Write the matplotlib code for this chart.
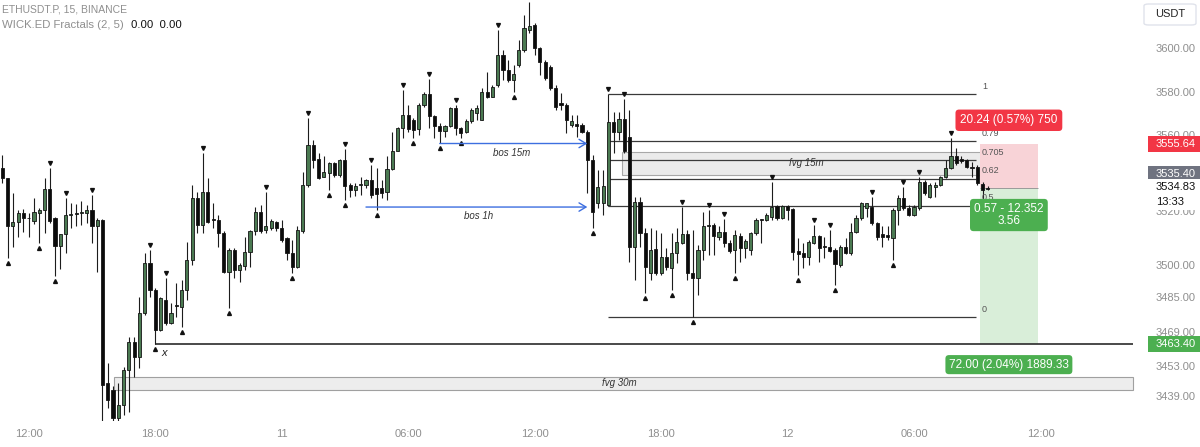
import matplotlib
matplotlib.use("Agg")
import matplotlib.pyplot as plt
import matplotlib.transforms as mtransforms
from matplotlib.patches import Rectangle, FancyBboxPatch
import numpy as np

plt.rcParams['font.family'] = ['Liberation Sans', 'DejaVu Sans']

# ETHUSDT.P 15m candles, bar 0 = day 10 12:00
first_bar = -5
opens = [
    3544.5, 3539.9, 3517.9, 3519.9, 3523.7, 3521.4, 3520.3, 3524.0, 3525.3, 3534.8,
    3521.4, 3508.6, 3514.2, 3522.7, 3523.7, 3523.9, 3523.7, 3525.0, 3517.6, 3520.7,
    3445.0, 3442.0, 3428.9, 3435.0, 3451.2, 3464.3, 3457.4, 3477.4, 3500.6, 3488.2,
    3469.7, 3483.6, 3472.8, 3481.3, 3480.5, 3488.2, 3502.1, 3530.7, 3518.3, 3533.7,
    3520.7, 3520.7, 3514.5, 3496.7, 3506.8, 3497.5, 3499.3, 3506.0, 3515.7, 3524.5,
    3516.0, 3516.8, 3519.9, 3516.8, 3512.2, 3505.5, 3499.0, 3515.3, 3536.8, 3555.4,
    3548.7, 3540.7, 3542.5, 3546.9, 3541.5, 3548.4, 3536.8, 3534.5, 3536.7, 3536.8,
    3539.2, 3535.3, 3535.3, 3533.4, 3544.1, 3552.7, 3563.1, 3569.2, 3566.9, 3562.6,
    3573.9, 3578.9, 3568.5, 3564.1, 3562.0, 3564.1, 3572.3, 3563.1, 3561.1, 3566.2,
    3570.0, 3566.9, 3580.0, 3577.7, 3583.1, 3597.0, 3590.1, 3585.4, 3592.4, 3599.3,
    3608.6, 3610.9, 3600.1, 3593.9, 3591.6, 3581.6, 3574.6, 3573.9, 3564.6, 3565.1,
    3564.6, 3561.5, 3548.4, 3528.4, 3528.4, 3527.6, 3566.1, 3561.5, 3567.2, 3558.9,
    3508.3, 3529.1, 3514.5, 3495.9, 3507.1, 3495.9, 3503.7, 3498.3, 3505.2, 3509.8,
    3514.2, 3496.3, 3493.6, 3506.8, 3517.6, 3518.2, 3512.9, 3515.2, 3509.8, 3506.8,
    3513.2, 3507.5, 3506.8, 3514.5, 3520.6, 3520.6, 3522.2, 3527.1, 3521.4, 3527.1,
    3525.6, 3506.4, 3505.2, 3503.7, 3509.8, 3513.2, 3508.6, 3508.3, 3506.8, 3499.8,
    3508.3, 3505.2, 3515.2, 3521.4, 3526.0, 3526.8, 3519.1, 3514.2, 3513.7, 3512.2,
    3525.3, 3530.7, 3526.0, 3522.9, 3526.0, 3538.4, 3531.4, 3535.8, 3536.8, 3540.4,
    3544.5, 3550.0, 3548.7, 3548.4, 3545.3, 3545.3, 3537.3, 3535.3,
]
highs = [
    3550.7, 3540.2, 3533.0, 3525.3, 3525.6, 3523.7, 3531.0, 3526.0, 3539.9, 3544.5,
    3521.9, 3514.2, 3530.7, 3528.4, 3528.0, 3529.4, 3527.6, 3532.2, 3521.4, 3521.0,
    3454.3, 3444.0, 3445.0, 3452.8, 3466.6, 3466.6, 3485.2, 3505.2, 3506.8, 3489.0,
    3485.2, 3493.6, 3482.1, 3491.3, 3492.9, 3510.6, 3536.8, 3533.7, 3551.5, 3539.9,
    3528.4, 3522.9, 3515.3, 3507.5, 3507.5, 3500.6, 3512.9, 3516.0, 3526.8, 3527.6,
    3533.7, 3521.0, 3520.2, 3520.7, 3512.6, 3511.4, 3517.6, 3543.0, 3567.7, 3557.7,
    3551.8, 3550.0, 3547.6, 3547.6, 3548.7, 3553.3, 3537.6, 3537.6, 3540.7, 3539.5,
    3546.1, 3544.5, 3539.2, 3550.0, 3561.5, 3563.8, 3580.8, 3573.9, 3567.7, 3574.6,
    3580.0, 3585.7, 3569.2, 3565.4, 3564.6, 3572.8, 3573.9, 3563.8, 3567.2, 3572.3,
    3573.9, 3581.6, 3589.3, 3583.1, 3608.6, 3599.3, 3594.7, 3592.4, 3603.9, 3615.5,
    3621.7, 3611.6, 3600.8, 3594.7, 3592.4, 3583.1, 3579.2, 3574.6, 3569.2, 3569.2,
    3565.7, 3562.3, 3550.7, 3543.8, 3543.8, 3578.8, 3570.8, 3570.5, 3576.5, 3571.5,
    3531.4, 3531.4, 3516.8, 3516.8, 3516.0, 3514.5, 3507.5, 3514.5, 3516.8, 3526.8,
    3516.0, 3516.0, 3509.1, 3524.5, 3525.3, 3519.1, 3517.6, 3520.9, 3511.4, 3516.0,
    3514.5, 3511.7, 3515.2, 3521.4, 3520.9, 3523.7, 3538.4, 3527.6, 3527.6, 3527.6,
    3526.0, 3512.1, 3509.8, 3511.4, 3518.3, 3513.7, 3512.9, 3516.0, 3507.5, 3509.1,
    3512.1, 3519.1, 3522.9, 3529.1, 3528.7, 3531.4, 3519.9, 3517.6, 3517.6, 3526.0,
    3532.2, 3536.1, 3527.6, 3527.6, 3540.7, 3539.2, 3537.6, 3538.4, 3541.0, 3548.4,
    3558.4, 3553.8, 3550.0, 3548.7, 3547.6, 3546.1, 3538.4, 3536.4,
]
lows = [
    3537.6, 3502.9, 3508.3, 3512.9, 3515.2, 3512.9, 3518.6, 3509.9, 3514.5, 3519.1,
    3494.7, 3497.8, 3505.2, 3516.8, 3518.0, 3518.3, 3519.1, 3509.9, 3496.7, 3427.0,
    3433.5, 3426.0, 3426.5, 3430.4, 3431.9, 3448.1, 3452.0, 3476.7, 3485.2, 3463.4,
    3469.3, 3472.0, 3472.3, 3475.9, 3471.3, 3483.6, 3500.0, 3514.5, 3514.5, 3519.1,
    3516.8, 3508.3, 3496.0, 3480.0, 3493.6, 3492.1, 3497.5, 3499.0, 3513.7, 3514.5,
    3514.5, 3516.0, 3515.3, 3510.6, 3502.1, 3496.0, 3498.3, 3514.5, 3536.1, 3544.5,
    3539.5, 3540.4, 3534.5, 3540.7, 3540.7, 3529.9, 3531.4, 3531.8, 3532.2, 3535.3,
    3530.7, 3525.3, 3530.7, 3529.9, 3543.8, 3552.3, 3558.4, 3561.5, 3558.4, 3560.0,
    3573.1, 3563.1, 3558.4, 3556.1, 3558.9, 3563.8, 3560.0, 3558.4, 3560.8, 3565.4,
    3566.9, 3566.9, 3576.9, 3577.4, 3582.3, 3585.4, 3584.6, 3580.0, 3591.6, 3598.5,
    3607.0, 3597.0, 3587.7, 3585.4, 3580.8, 3571.5, 3571.5, 3560.7, 3563.8, 3559.2,
    3560.7, 3533.0, 3516.8, 3526.0, 3522.9, 3527.1, 3551.5, 3557.7, 3551.8, 3501.4,
    3492.9, 3508.3, 3486.7, 3492.9, 3495.2, 3495.2, 3497.5, 3488.2, 3500.6, 3509.5,
    3492.9, 3475.6, 3485.9, 3502.1, 3504.4, 3504.4, 3511.4, 3508.3, 3505.2, 3495.9,
    3501.4, 3502.9, 3504.4, 3513.7, 3509.8, 3520.3, 3520.6, 3520.6, 3520.9, 3520.6,
    3502.1, 3495.2, 3498.3, 3499.8, 3509.5, 3501.4, 3502.9, 3506.0, 3490.6, 3499.0,
    3504.9, 3504.4, 3514.5, 3520.6, 3522.2, 3518.3, 3511.4, 3508.3, 3511.4, 3502.1,
    3518.3, 3525.3, 3522.5, 3522.5, 3525.3, 3532.2, 3530.7, 3531.4, 3536.4, 3539.9,
    3544.1, 3546.1, 3546.9, 3544.5, 3540.7, 3536.8, 3529.9, 3534.5,
]
closes = [
    3539.9, 3517.9, 3519.9, 3523.7, 3521.4, 3521.3, 3524.5, 3525.3, 3534.8, 3520.3,
    3508.6, 3514.2, 3523.0, 3523.4, 3523.6, 3524.2, 3525.0, 3517.6, 3520.7, 3444.3,
    3437.3, 3429.0, 3435.0, 3451.2, 3464.3, 3457.4, 3477.4, 3500.6, 3488.2, 3469.7,
    3484.4, 3472.8, 3477.4, 3481.0, 3488.2, 3502.1, 3530.7, 3518.3, 3533.7, 3519.9,
    3520.5, 3514.5, 3496.7, 3506.8, 3497.5, 3499.8, 3506.0, 3515.7, 3524.5, 3515.3,
    3517.6, 3520.3, 3516.8, 3511.4, 3505.2, 3499.0, 3516.0, 3536.8, 3555.4, 3548.4,
    3539.9, 3543.0, 3546.9, 3541.5, 3548.4, 3536.4, 3534.5, 3536.4, 3537.0, 3539.2,
    3532.2, 3532.7, 3533.3, 3544.1, 3552.7, 3563.1, 3569.2, 3562.6, 3562.3, 3573.9,
    3578.9, 3568.5, 3564.1, 3562.0, 3564.1, 3572.3, 3563.1, 3560.8, 3566.2, 3571.5,
    3572.3, 3580.0, 3577.7, 3582.3, 3597.0, 3590.1, 3585.4, 3588.2, 3599.3, 3609.3,
    3610.4, 3600.1, 3593.9, 3586.2, 3581.6, 3573.1, 3573.9, 3566.9, 3566.6, 3564.1,
    3561.5, 3548.4, 3524.5, 3536.1, 3536.4, 3566.1, 3561.5, 3567.2, 3552.3, 3508.3,
    3529.1, 3514.5, 3499.0, 3506.8, 3495.9, 3503.7, 3499.0, 3505.2, 3510.6, 3514.2,
    3496.3, 3493.6, 3506.8, 3517.6, 3518.2, 3513.2, 3515.2, 3509.8, 3506.4, 3513.7,
    3507.5, 3511.1, 3514.5, 3520.6, 3520.5, 3522.9, 3526.8, 3521.4, 3527.1, 3525.3,
    3506.0, 3504.9, 3503.7, 3510.6, 3513.2, 3507.5, 3508.3, 3506.4, 3500.3, 3508.3,
    3505.2, 3515.2, 3521.4, 3528.4, 3528.4, 3519.1, 3512.9, 3512.9, 3512.6, 3525.3,
    3530.7, 3526.0, 3522.9, 3526.8, 3538.4, 3533.0, 3536.8, 3536.8, 3540.7, 3544.5,
    3550.0, 3546.9, 3547.9, 3545.3, 3544.5, 3537.6, 3534.5, 3534.83,
]

# WICK.ED fractal marks (bar numbers)
high_fractals = [4, 7, 12, 23, 26, 33, 45, 53, 60, 65, 71, 76, 81, 89, 110, 113,
                 124, 129, 132, 141, 149, 152, 160, 166, 169, 175]
low_fractals = [-4, 2, 5, 24, 29, 38, 50, 57, 60, 66, 73, 78, 82, 92, 107, 117,
                122, 126, 134, 146, 153, 164]

time_ticks = [0, 24, 48, 72, 96, 120, 144, 168, 192]
time_labels = ["12:00", "18:00", "11", "06:00", "12:00", "18:00", "12", "06:00", "12:00"]
price_ticks = [3600, 3580, 3560, 3520, 3500, 3485, 3469, 3453, 3439]

# drawings
fvg30_lo, fvg30_hi = 3442.0, 3448.1
fvg15_lo, fvg15_hi = 3541.5, 3552.0
swing_low = 3463.40
bos_1h = 3526.6
bos_15m = 3556.0
fib_high, fib_low = 3578.8, 3475.6
fib_levels = [1, 0.79, 0.705, 0.62, 0.5, 0]
entry, stop, target = 3535.40, 3555.64, 3463.40
last_price = 3534.83

W, H = 1200, 447
fig = plt.figure(figsize=(W / 100, H / 100), dpi=100)
fig.patch.set_facecolor('white')
ax = fig.add_axes([0, 26 / H, 1138 / W, 421 / H])
ax.set_xlim(-5.45, 210.5)
ax.set_ylim(3427.6, 3622.4)
for s in ax.spines.values():
    s.set_visible(False)

# candles
o = np.array(opens)
c = np.array(closes)
x = np.arange(first_bar, first_bar + len(o))
up = c >= o
ax.vlines(x, lows, highs, color='#1c1c1c', lw=0.8, zorder=3)
bottom = np.minimum(o, c)
height = np.maximum(np.abs(c - o), 0.45)
ax.bar(x, height, bottom=bottom, width=0.6,
       color=np.where(up, '#4b7a52', '#0b0b0b'),
       edgecolor='#151515', linewidth=0.6, zorder=4)

# fractals
hi_off = mtransforms.offset_copy(ax.transData, fig=fig, y=5, units='dots')
lo_off = mtransforms.offset_copy(ax.transData, fig=fig, y=-5, units='dots')
hf = np.array(high_fractals)
lf = np.array(low_fractals)
ax.plot(hf, np.array(highs)[hf - first_bar], 'v', ms=2.8, color='#111',
        transform=hi_off, zorder=5, ls='none')
ax.plot(lf, np.array(lows)[lf - first_bar], '^', ms=2.8, color='#111',
        transform=lo_off, zorder=5, ls='none')

# fvg 30m
ax.add_patch(Rectangle((16.2, fvg30_lo), 209.6 - 16.2, fvg30_hi - fvg30_lo,
                       fc='#ededed', ec='#a0a0a0', lw=0.8, zorder=1))
ax.text(112, (fvg30_lo + fvg30_hi) / 2, 'fvg 30m', style='italic', fontsize=7,
        color='#333', ha='center', va='center', zorder=6)

# swing low line
ax.hlines(swing_low, 24, 209.6, color='#2b2b2b', lw=1.2, zorder=2)
ax.annotate('x', (24.6, swing_low), xytext=(3, -9), textcoords='offset pixels',
            style='italic', fontsize=8, color='#222', va='center')

# break of structure arrows
for lvl, x0, label, lx in [(bos_1h, 64, 'bos 1h', 85.3), (bos_15m, 78, 'bos 15m', 91.7)]:
    ax.annotate('', xy=(106, lvl), xytext=(x0, lvl),
                arrowprops=dict(arrowstyle='->,head_length=0.5,head_width=0.3',
                                color='#3d6fe0', lw=1.0, shrinkA=0, shrinkB=0), zorder=5)
    ax.annotate(label, (lx, lvl), xytext=(0, -9), textcoords='offset pixels',
                style='italic', fontsize=7, color='#333', ha='center', va='center')

# fvg 15m
ax.add_patch(Rectangle((112.6, fvg15_lo), 182.4 - 112.6, fvg15_hi - fvg15_lo,
                       fc='#ebebeb', ec='#a8a8a8', lw=0.8, zorder=1))
ax.text(147.5, (fvg15_lo + fvg15_hi) / 2, 'fvg 15m', style='italic', fontsize=7,
        color='#333', ha='center', va='center', zorder=6)

# fib retracement
for lv in fib_levels:
    p = fib_low + lv * (fib_high - fib_low)
    ax.hlines(p, 110, 179.7, color='#3a3a3a', lw=0.9, zorder=2)
    ax.annotate(f'{lv:g}', (180.9, p), xytext=(0, 8), textcoords='offset pixels',
                fontsize=6.5, color='#555', ha='left', va='center', zorder=6)

# short position tool
ax.add_patch(Rectangle((180.5, entry), 11, stop - entry, fc='#f8d3d7', ec='none', zorder=1))
ax.add_patch(Rectangle((180.5, target), 11, entry - target, fc='#d9eed9', ec='none', zorder=1))
ax.hlines(entry, 180.5, 191.5, color='#9a9a9a', lw=0.7, zorder=2)

ax.annotate('20.24 (0.57%) 750', (186, stop), xytext=(0, 24), textcoords='offset pixels',
            fontsize=8.5, color='white', ha='center', va='center', zorder=7,
            bbox=dict(boxstyle='round,pad=0.4,rounding_size=0.3', fc='#f23645', ec='none'))
ax.annotate('0.57 - 12.352\n3.56', (186, entry), xytext=(0, -27), textcoords='offset pixels',
            fontsize=8.5, color='white', ha='center', va='center', linespacing=1.0, zorder=7,
            bbox=dict(boxstyle='round,pad=0.35,rounding_size=0.3', fc='#4caf50', ec='none'))
ax.annotate('72.00 (2.04%) 1889.33', (186, target), xytext=(0, -21), textcoords='offset pixels',
            fontsize=8.5, color='white', ha='center', va='center', zorder=7,
            bbox=dict(boxstyle='round,pad=0.3,rounding_size=0.3', fc='#4caf50', ec='none'))

# axes ticks
ax.set_xticks(time_ticks, labels=time_labels)
ax.yaxis.tick_right()
ax.set_yticks(price_ticks, labels=[f'{p:.2f}' for p in price_ticks])
ax.tick_params(axis='x', length=0, pad=6, labelsize=8, labelcolor='#8f8f8f')
ax.tick_params(axis='y', length=0, pad=13, labelsize=8, labelcolor='#8f8f8f')
# the 3520 label sits pushed up under the countdown tag
for lab in ax.get_yticklabels():
    if lab.get_text() == '3520.00':
        lab.set_transform(lab.get_transform() +
                          mtransforms.ScaledTranslation(0, 0.10, fig.dpi_scale_trans))


def price_tag(price, text, fc, tc, shift=0):
    yc = ax.transData.transform((0, price))[1] + shift
    fig.add_artist(Rectangle((1148 / W, (yc - 8) / H), 52 / W, 16 / H,
                             transform=fig.transFigure, fc=fc, ec='none', zorder=10))
    fig.text(1156 / W, yc / H, text, color=tc, fontsize=8, va='center', ha='left', zorder=11)


price_tag(stop, f'{stop:.2f}', '#f23645', 'white')
price_tag(entry, f'{entry:.2f}', '#6f7380', 'white', shift=14)
price_tag(last_price, f'{last_price:.2f}', 'white', '#111', shift=2)
price_tag(last_price, '13:33', 'white', '#111', shift=-13)
price_tag(target, f'{target:.2f}', '#4caf50', 'white')

# currency box
fig.add_artist(FancyBboxPatch((1144 / W, 1 - 25 / H), 52 / W, 21 / H,
                              boxstyle='round,pad=0,rounding_size=0.004',
                              transform=fig.transFigure, fc='white', ec='#e0e3eb', lw=1))
fig.text(1170 / W, 1 - 14 / H, 'USDT', fontsize=8, color='#222', ha='center', va='center')

# legend text
fig.text(2 / W, 1 - 9 / H, 'ETHUSDT.P, 15, BINANCE', fontsize=7.5, color='#8f8f8f', va='center')
fig.text(2 / W, 1 - 25 / H, 'WICK.ED Fractals (2, 5)', fontsize=8.2, color='#8f8f8f', va='center')
fig.text(131 / W, 1 - 25 / H, '0.00  0.00', fontsize=8.2, color='#111', va='center')

fig.savefig('out.png', dpi=100)
